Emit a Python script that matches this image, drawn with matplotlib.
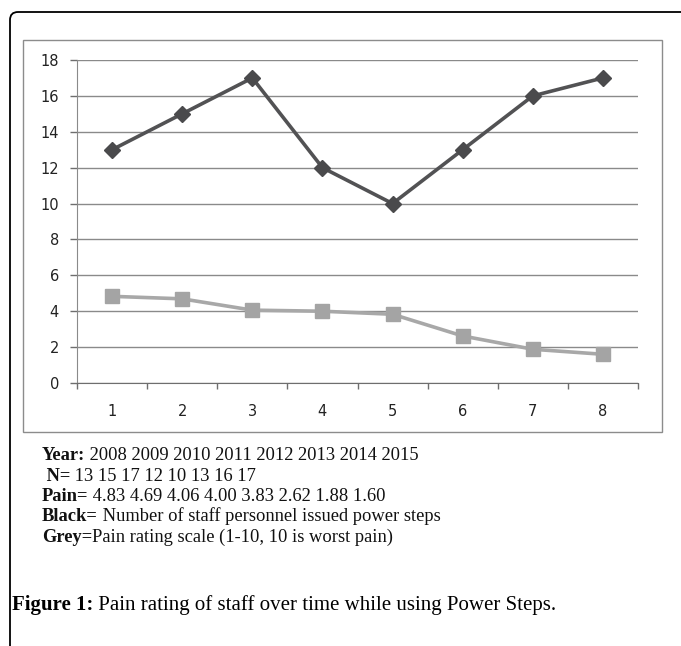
import matplotlib.pyplot as plt
from matplotlib.patches import Rectangle, FancyBboxPatch

# data
points = [1, 2, 3, 4, 5, 6, 7, 8]
staff_n = [13, 15, 17, 12, 10, 13, 16, 17]
pain = [4.83, 4.69, 4.06, 4.00, 3.83, 2.62, 1.88, 1.60]
y_ticks = [0, 2, 4, 6, 8, 10, 12, 14, 16, 18]

notes = [
    ("Year:", " 2008 2009 2010 2011 2012 2013 2014 2015"),
    (" N=", " 13 15 17 12 10 13 16 17"),
    ("Pain=", " 4.83 4.69 4.06 4.00 3.83 2.62 1.88 1.60"),
    ("Black=", " Number of staff personnel issued power steps"),
    ("Grey=", "Pain rating scale (1-10, 10 is worst pain)"),
]
caption_bold = "Figure 1:"
caption_rest = " Pain rating of staff over time while using Power Steps."

W, H = 681, 646
fig = plt.figure(figsize=(W / 100, H / 100), dpi=100)

# overlay in pixel coordinates for boxes and text
bg = fig.add_axes([0, 0, 1, 1], zorder=0)
bg.set_xlim(0, W)
bg.set_ylim(H, 0)
bg.axis("off")

bg.add_patch(FancyBboxPatch((10, 12), 720, 700,
                            boxstyle="round,pad=0,rounding_size=8",
                            fc="white", ec="black", lw=1.3))
bg.add_patch(Rectangle((23, 40), 639, 392, fc="white", ec="#8c8c8c", lw=1.0))

ax = fig.add_axes([77 / W, 1 - 383 / H, 561 / W, 323 / H], zorder=1)
ax.patch.set_alpha(0)

ax.plot(points, staff_n, color="#525254", lw=2.6, marker="D",
        markersize=8, markerfacecolor="#4a4a4c", markeredgecolor="#4a4a4c",
        zorder=3)
ax.plot(points, pain, color="#a8a8a8", lw=2.6, marker="s",
        markersize=9.5, markerfacecolor="#a4a4a4", markeredgecolor="#a4a4a4",
        zorder=3)

ax.set_xlim(0.5, 8.5)
ax.set_ylim(0, 18)
ax.set_yticks(y_ticks)
ax.set_xticks(points)
ax.set_xticks([p + 0.5 for p in [0] + points], minor=True)
ax.tick_params(axis="x", which="major", length=0, pad=15, labelsize=10.5,
               labelcolor="#222222")
ax.tick_params(axis="x", which="minor", length=4, width=1, color="#6e6e6e",
               direction="out")
ax.tick_params(axis="y", length=5, width=1, color="#6e6e6e", pad=8,
               labelsize=10.5, labelcolor="#222222")
ax.yaxis.grid(True, color="#8a8a8a", lw=1.0)
ax.set_axisbelow(True)
for s in ["top", "right"]:
    ax.spines[s].set_visible(False)
ax.spines["left"].set_color("#8a8a8a")
ax.spines["bottom"].set_color("#6e6e6e")

serif = "Liberation Serif"
y = 456
for bold, rest in notes:
    t = bg.text(42, y, bold, fontfamily=serif, fontweight="bold",
                fontsize=13.3, va="center", ha="left", color="#111111")
    bg.annotate(rest, xy=(1, 0), xycoords=t, va="bottom", ha="left",
                fontfamily=serif, fontsize=13.3, color="#111111")
    y += 20.3

t = bg.text(12, 605, caption_bold, fontfamily=serif, fontweight="bold",
            fontsize=15, va="center", ha="left", color="black")
bg.annotate(caption_rest, xy=(1, 0), xycoords=t, va="bottom", ha="left",
            fontfamily=serif, fontsize=15, color="black")

fig.savefig("out.png", dpi=100)
